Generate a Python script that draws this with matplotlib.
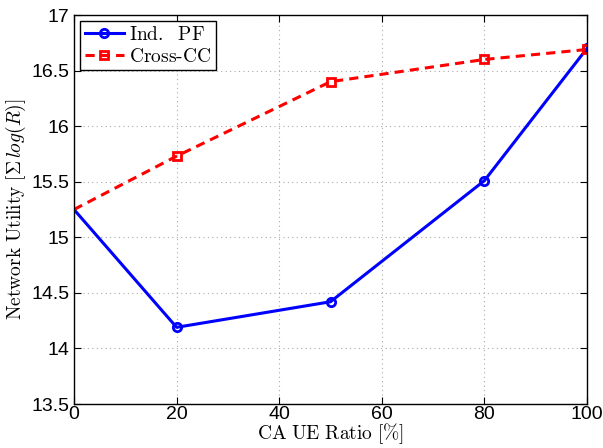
import matplotlib
matplotlib.use("Agg")
import matplotlib.pyplot as plt

plt.rcParams['mathtext.fontset'] = 'cm'
plt.rcParams['font.family'] = ['Liberation Sans', 'DejaVu Sans']

x = [0, 20, 50, 80, 100]
ind_pf = [15.25, 14.19, 14.42, 15.51, 16.70]
cross_cc = [15.25, 15.73, 16.40, 16.60, 16.69]
xticks = [0, 20, 40, 60, 80, 100]
yticks = [13.5, 14, 14.5, 15, 15.5, 16, 16.5, 17]

fig = plt.figure(figsize=(6.03, 4.48), dpi=100)
ax = fig.add_axes([0.1227, 0.0982, 0.8508, 0.8683])

ax.plot(x, ind_pf, '-', color='#0000ff', lw=2.2, marker='o', ms=6, mfc='none',
        mew=2, markevery=[1, 2, 3, 4], label=r'$\mathrm{Ind.\ \ PF}$')
ax.plot(x, cross_cc, color='#ff0000', lw=2.2, ls=(0, (3, 2)), marker='s', ms=6, mfc='none',
        mew=2, markevery=[1, 2, 3, 4], label=r'$\mathrm{Cross\text{-}CC}$')

ax.set_xlim(0, 100)
ax.set_ylim(13.5, 17)
ax.set_xticks(xticks)
ax.set_yticks(yticks)
ax.set_yticklabels(['13.5', '14', '14.5', '15', '15.5', '16', '16.5', '17'])
ax.tick_params(direction='in', labelsize=14, length=5, top=True, right=True)
ax.tick_params(axis='x', pad=1.5)
ax.grid(True, linestyle=(0, (1, 3)), color='#aaaaaa', lw=0.8)
for s in ax.spines.values():
    s.set_linewidth(1.0)

ax.set_xlabel(r'$\mathrm{CA\ UE\ Ratio\ [\%]}$', fontsize=14, labelpad=-1)
ax.set_ylabel(r'$\mathrm{Network\ Utility}\ [\Sigma\, log(R)]$', fontsize=14, labelpad=2)

leg = ax.legend(loc='upper left', fontsize=14, fancybox=False, edgecolor='black',
                framealpha=1, borderaxespad=0.3, handlelength=2.0, borderpad=0.25,
                labelspacing=0.2, handletextpad=0.3)
leg.get_frame().set_linewidth(1.0)

fig.savefig('out.png', dpi=100)
